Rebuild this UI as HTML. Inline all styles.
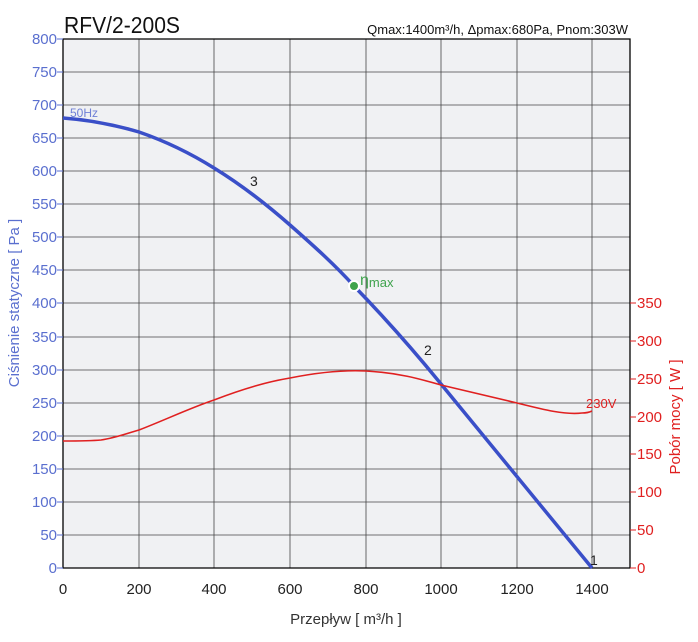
<!DOCTYPE html>
<html><head><meta charset="utf-8"><style>body{margin:0;background:#fff}svg text{font-family:"Liberation Sans",sans-serif}</style></head><body>
<svg width="698" height="637" xmlns="http://www.w3.org/2000/svg">
<rect x="63" y="39" width="567" height="529" fill="#f0f1f3"/>
<g stroke="#444" stroke-width="0.8">
<line x1="139" y1="39" x2="139" y2="568"/><line x1="214" y1="39" x2="214" y2="568"/><line x1="290" y1="39" x2="290" y2="568"/><line x1="366" y1="39" x2="366" y2="568"/><line x1="441" y1="39" x2="441" y2="568"/><line x1="517" y1="39" x2="517" y2="568"/><line x1="592" y1="39" x2="592" y2="568"/>
<line x1="63" y1="72" x2="630" y2="72"/><line x1="63" y1="105" x2="630" y2="105"/><line x1="63" y1="138" x2="630" y2="138"/><line x1="63" y1="171" x2="630" y2="171"/><line x1="63" y1="204" x2="630" y2="204"/><line x1="63" y1="237" x2="630" y2="237"/><line x1="63" y1="270" x2="630" y2="270"/><line x1="63" y1="303" x2="630" y2="303"/><line x1="63" y1="337" x2="630" y2="337"/><line x1="63" y1="370" x2="630" y2="370"/><line x1="63" y1="403" x2="630" y2="403"/><line x1="63" y1="436" x2="630" y2="436"/><line x1="63" y1="469" x2="630" y2="469"/><line x1="63" y1="502" x2="630" y2="502"/><line x1="63" y1="535" x2="630" y2="535"/>
</g>
<g stroke="#000" stroke-width="1.3" fill="none"><path d="M63 39H630V568H63Z"/></g>
<g stroke="#5a6fcf" stroke-width="1"><path d="M57 39h6M57 72h6M57 105h6M57 138h6M57 171h6M57 204h6M57 237h6M57 270h6M57 303h6M57 337h6M57 370h6M57 403h6M57 436h6M57 469h6M57 502h6M57 535h6M57 568h6"/></g>
<g stroke="#e02020" stroke-width="1"><path d="M630 568h6M630 530h6M630 492h6M630 454h6M630 417h6M630 379h6M630 341h6M630 303h6"/></g>
<g fill="#5a6fcf" font-size="15" text-anchor="end">
<text x="57" y="44">800</text><text x="57" y="77">750</text><text x="57" y="110">700</text><text x="57" y="143">650</text><text x="57" y="176">600</text><text x="57" y="209">550</text><text x="57" y="242">500</text><text x="57" y="275">450</text><text x="57" y="308">400</text><text x="57" y="342">350</text><text x="57" y="375">300</text><text x="57" y="408">250</text><text x="57" y="441">200</text><text x="57" y="474">150</text><text x="57" y="507">100</text><text x="57" y="540">50</text><text x="57" y="573">0</text>
</g>
<g fill="#e02020" font-size="15">
<text x="637" y="573">0</text><text x="637" y="535">50</text><text x="637" y="497">100</text><text x="637" y="459">150</text><text x="637" y="422">200</text><text x="637" y="384">250</text><text x="637" y="346">300</text><text x="637" y="308">350</text>
</g>
<g fill="#222" font-size="15" text-anchor="middle">
<text x="63" y="594">0</text><text x="139" y="594">200</text><text x="214" y="594">400</text><text x="290" y="594">600</text><text x="366" y="594">800</text><text x="441" y="594">1000</text><text x="517" y="594">1200</text><text x="592" y="594">1400</text>
</g>
<text x="346" y="624" font-size="15" fill="#333" text-anchor="middle">Przepływ [ m³/h ]</text>
<text transform="translate(19,303) rotate(-90)" font-size="15" fill="#5a6fcf" text-anchor="middle">Ciśnienie statyczne [ Pa ]</text>
<text transform="translate(680,417) rotate(-90)" font-size="15" fill="#e02020" text-anchor="middle">Pobór mocy [ W ]</text>
<text x="64" y="33" font-size="23" fill="#111" textLength="116" lengthAdjust="spacingAndGlyphs">RFV/2-200S</text>
<text x="628" y="34" font-size="13" fill="#111" text-anchor="end">Qmax:1400m³/h, Δpmax:680Pa, Pnom:303W</text>
<path d="M63 118 C90 120,115 125,139 132 C165 141,190 153,214 168 C240 184,265 203,290 225 C315 247,335 265,354 286 C385 318,415 352,441 384 L592 568" stroke="#3a4fc8" stroke-width="3.5" fill="none"/>
<path d="M63 441 C80 441,90 441,101 440 C115 438,125 434,139 430 C165 420,190 408,214 400 C240 390,265 382,290 378 C320 372,345 370,366 371 C400 373,420 379,441 385 C470 392,495 398,517 403 C545 410,565 415,582 413 C587 413,590 412,592 411" stroke="#e02020" stroke-width="1.6" fill="none"/>
<circle cx="354" cy="286" r="5" fill="#3fa34d" stroke="#fff" stroke-width="2"/>
<text x="360" y="285" font-size="16" fill="#3fa34d">η<tspan font-size="13" dy="2">max</tspan></text>
<text x="70" y="117" font-size="12" fill="#6f80d6">50Hz</text>
<text x="586" y="408" font-size="13" fill="#e02020">230V</text>
<text x="250" y="186" font-size="14" fill="#222">3</text>
<text x="424" y="355" font-size="14" fill="#222">2</text>
<text x="590" y="565" font-size="14" fill="#222">1</text>
</svg>
</body></html>
